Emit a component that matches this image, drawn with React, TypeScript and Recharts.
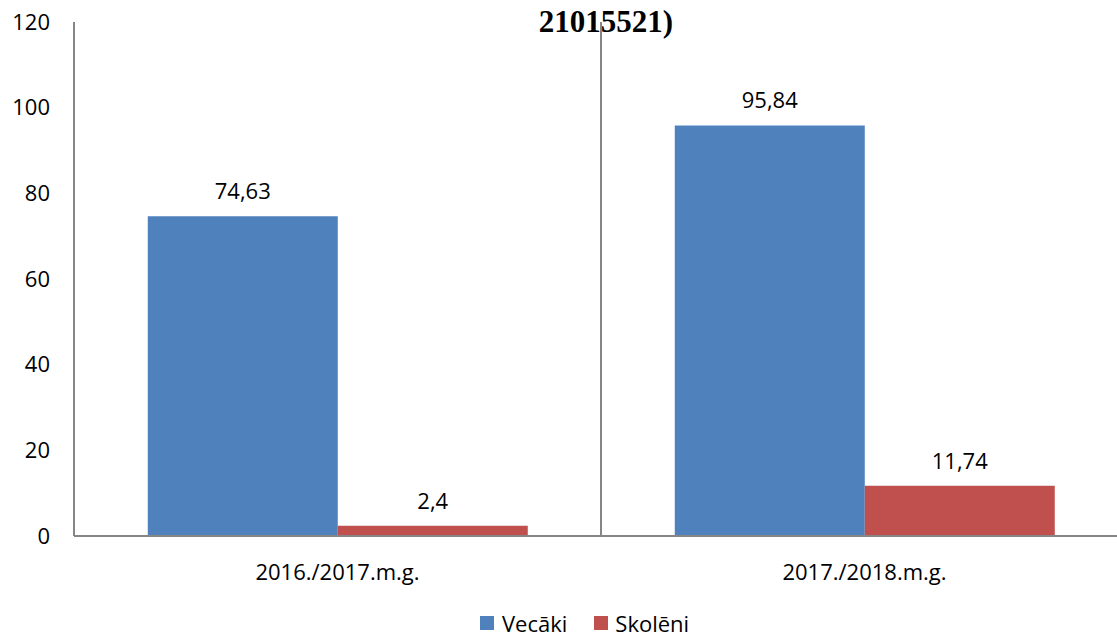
import React from "react";
import {
  BarChart,
  Bar,
  XAxis,
  YAxis,
  CartesianGrid,
  LabelList,
} from "recharts";

const years = ["2016./2017.m.g.", "2017./2018.m.g."];
const vecaki = [74.63, 95.84];
const skoleni = [2.4, 11.74];
const yTicks = [0, 20, 40, 60, 80, 100, 120];

const data = years.map((year, i) => ({
  year,
  vecaki: vecaki[i],
  skoleni: skoleni[i],
}));

const FONT = "'Open Sans', 'DejaVu Sans', sans-serif";
const AXIS = "#868686";
const BLUE = "#4F81BD";
const RED = "#C0504D";

const commaFmt = (v: any) => String(v).replace(".", ",");

export default function App() {
  return (
    <div
      style={{
        position: "absolute",
        left: 0,
        top: 0,
        width: 1117,
        height: 637,
        overflow: "hidden",
        background: "#fff",
        fontFamily: FONT,
      }}
    >
      <div
        style={{
          position: "absolute",
          left: 606,
          top: 5,
          transform: "translateX(-50%)",
          fontFamily: "'Liberation Serif', serif",
          fontWeight: "bold",
          fontSize: 31,
          lineHeight: "34px",
          whiteSpace: "nowrap",
          color: "#000",
        }}
      >
        21015521)
      </div>
      <BarChart
        width={1140}
        height={637}
        data={data}
        margin={{ top: 22, right: 12, bottom: 0, left: 0 }}
        barCategoryGap="14%"
        barGap={0}
      >
        <CartesianGrid
          horizontal={false}
          vertical
          stroke={AXIS}
          strokeWidth={2}
          verticalCoordinatesGenerator={({ offset }: any) =>
            years.slice(1).map((_, i) => offset.left + (offset.width / years.length) * (i + 1))
          }
        />
        <XAxis
          dataKey="year"
          height={101}
          axisLine={{ stroke: AXIS, strokeWidth: 2 }}
          tickLine={false}
          tickSize={0}
          tickMargin={28}
          tick={{ fill: "#000", fontSize: 22, fontFamily: FONT }}
        />
        <YAxis
          width={74}
          domain={[0, 120]}
          ticks={yTicks}
          interval={0}
          axisLine={{ stroke: AXIS, strokeWidth: 2 }}
          tickLine={false}
          tickSize={0}
          tickMargin={24}
          tick={{ fill: "#000", fontSize: 22, fontFamily: FONT }}
        />
        <Bar dataKey="vecaki" fill={BLUE} isAnimationActive={false}>
          <LabelList
            dataKey="vecaki"
            position="top"
            offset={17}
            formatter={commaFmt}
            style={{ fill: "#000", fontSize: 22, fontFamily: FONT }}
          />
        </Bar>
        <Bar dataKey="skoleni" fill={RED} isAnimationActive={false}>
          <LabelList
            dataKey="skoleni"
            position="top"
            offset={17}
            formatter={commaFmt}
            style={{ fill: "#000", fontSize: 22, fontFamily: FONT }}
          />
        </Bar>
      </BarChart>
      <div
        style={{
          position: "absolute",
          left: 480,
          top: 610,
          height: 26,
          display: "flex",
          alignItems: "center",
          fontSize: 22,
          lineHeight: "26px",
          color: "#000",
          whiteSpace: "nowrap",
        }}
      >
        <span style={{ width: 14, height: 14, background: BLUE, display: "inline-block", marginRight: 8 }} />
        <span style={{ marginRight: 27 }}>Vecāki</span>
        <span style={{ width: 14, height: 14, background: RED, display: "inline-block", marginRight: 7 }} />
        <span>Skolēni</span>
      </div>
    </div>
  );
}
